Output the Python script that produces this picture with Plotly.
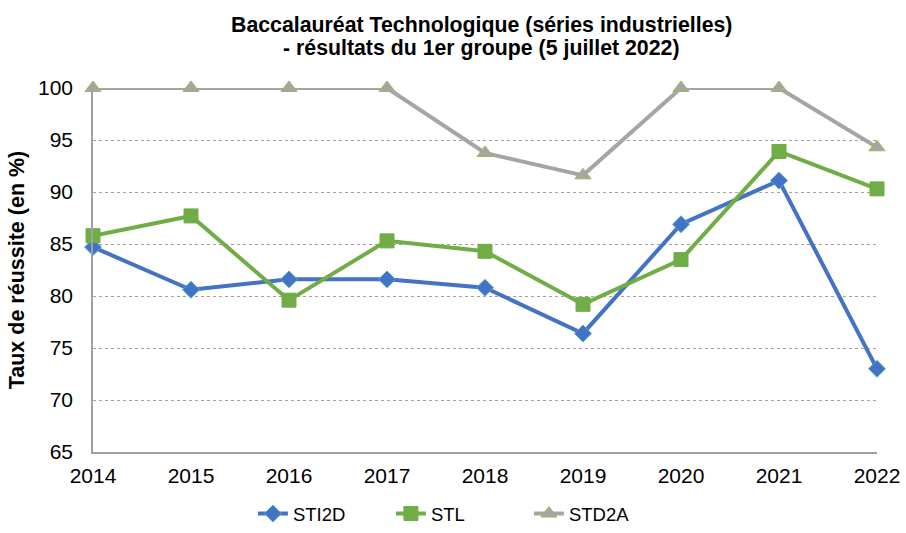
import plotly.graph_objects as go

years = [2014, 2015, 2016, 2017, 2018, 2019, 2020, 2021, 2022]
sti2d = [84.7, 80.6, 81.6, 81.6, 80.8, 76.4, 86.9, 91.1, 73.0]
stl = [85.8, 87.7, 79.6, 85.3, 84.3, 79.2, 83.5, 93.9, 90.3]
std2a = [100, 100, 100, 100, 93.75, 91.6, 100, 100, 94.3]

title_lines = ["Baccalauréat Technologique (séries industrielles)",
               "- résultats du 1er groupe (5 juillet 2022)"]

fig = go.Figure()
fig.add_trace(go.Scatter(x=years, y=sti2d, name="STI2D", mode="lines+markers",
                         line=dict(color="#4472C4", width=4),
                         marker=dict(symbol="diamond", size=13, color="#4472C4",
                                     line=dict(color="#4BACC6", width=1)),
                         cliponaxis=False))
fig.add_trace(go.Scatter(x=years, y=stl, name="STL", mode="lines+markers",
                         line=dict(color="#70AD47", width=4),
                         marker=dict(symbol="square", size=14, color="#70AD47",
                                     line=dict(color="#70AD47", width=1)),
                         cliponaxis=False))
fig.add_trace(go.Scatter(x=years, y=std2a, name="STD2A", mode="lines+markers",
                         line=dict(color="#A5A5A5", width=4),
                         marker=dict(symbol="triangle-up", size=14, color="#A5A5A5",
                                     line=dict(color="#9BBB59", width=1)),
                         cliponaxis=False))

for line_text, ypos in zip(title_lines, [1.1731, 1.1099]):
    fig.add_annotation(text="<b>" + line_text + "</b>",
                       xref="paper", yref="paper", x=0.4949, y=ypos,
                       xanchor="center", yanchor="middle", showarrow=False,
                       font=dict(size=21.3, color="black"))

fig.update_layout(
    width=906, height=533,
    paper_bgcolor="white", plot_bgcolor="white",
    margin=dict(l=93, r=29, t=88, b=81),
    font=dict(family="Liberation Sans, Arial, sans-serif", size=21, color="black"),
    xaxis=dict(range=[2014, 2022], tickmode="array", tickvals=years,
               ticktext=[str(y) for y in years], showgrid=False,
               showline=True, linecolor="#A0A0A0", linewidth=1.5,
               ticks="", zeroline=False, ticklabelstandoff=4, automargin=False),
    yaxis=dict(range=[65, 100], dtick=5, showgrid=True, gridcolor="#A0A0A0",
               griddash="dot", gridwidth=1, showline=True, linecolor="#A0A0A0",
               linewidth=1.5, ticks="", zeroline=False, ticklabelstandoff=14,
               automargin=False,
               title=dict(text="<b>Taux de réussite (en %)</b>", standoff=7,
                          font=dict(size=21.5))),
    legend=dict(orientation="h", x=0.468, xanchor="center",
                yref="container", y=-0.015, yanchor="bottom",
                font=dict(size=18.5), tracegroupgap=0,
                entrywidth=93, entrywidthmode="pixels"),
)

fig.write_html("out.html", config={"displayModeBar": False},
               post_script="document.body.style.margin='0';")
